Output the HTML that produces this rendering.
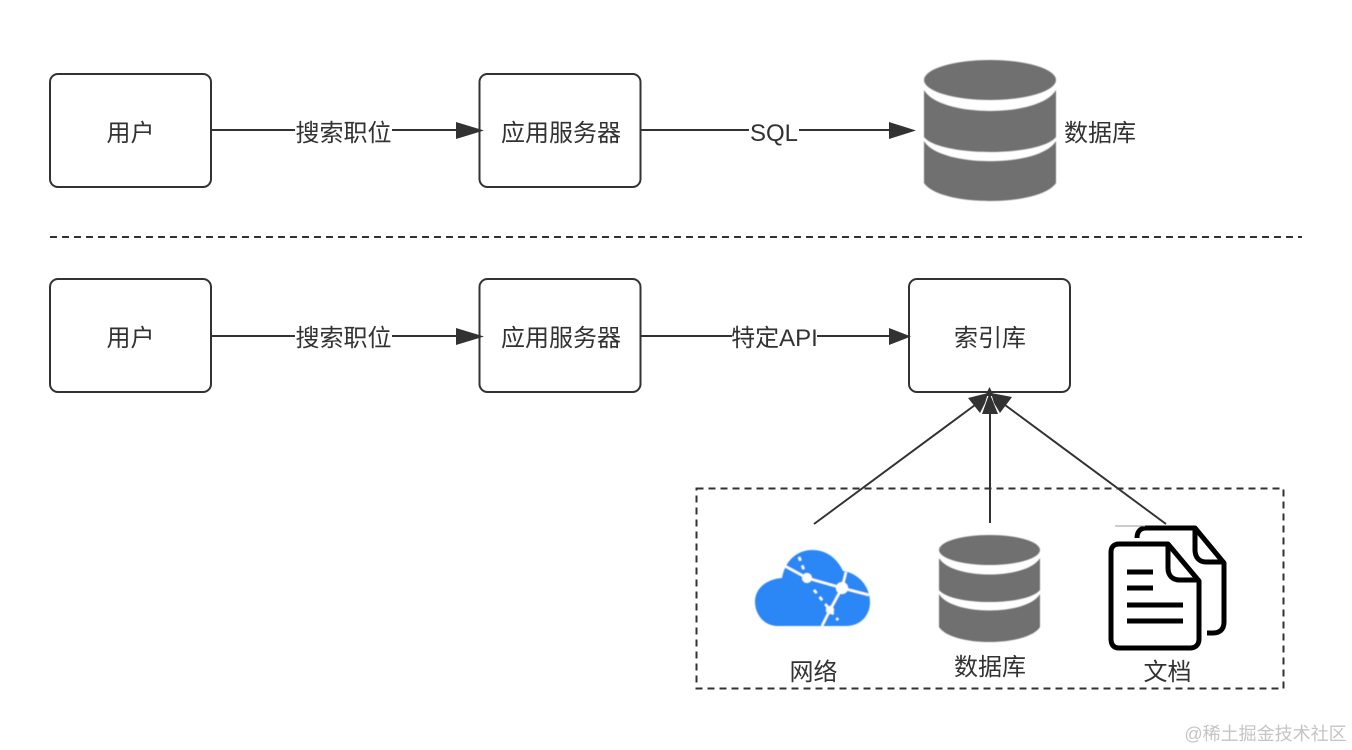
<!DOCTYPE html>
<html lang="zh"><head><meta charset="utf-8"><style>
html,body{margin:0;padding:0;background:#fff;width:1352px;height:750px;overflow:hidden}
svg{display:block}
text{font-family:"Liberation Sans","Noto Sans CJK SC",sans-serif;font-size:24px;fill:#333;text-anchor:middle}
</style></head><body>
<svg width="1352" height="750" viewBox="0 0 1352 750" xmlns="http://www.w3.org/2000/svg">
<defs>
<filter id="b" x="-5%" y="-5%" width="110%" height="110%"><feGaussianBlur stdDeviation="0.6"/></filter>
<filter id="s" filterUnits="userSpaceOnUse" x="0" y="0" width="1352" height="750"><feGaussianBlur stdDeviation="0.3"/></filter>
</defs>
<g filter="url(#s)">
<g fill="#fff" stroke="#333" stroke-width="2">
<rect x="50" y="74" width="161" height="113" rx="8"/>
<rect x="479.500" y="74" width="161" height="113" rx="8"/>
<rect x="50" y="279" width="161" height="113" rx="8"/>
<rect x="479.500" y="279" width="161" height="113" rx="8"/>
<rect x="909" y="279" width="161" height="113" rx="8"/>
</g>
<g stroke="#333" stroke-width="2" fill="none">
<path d="M212 130H460M641 130H892M212 336H460M641 336H892"/>
<path d="M814 524L975 405M990 523V410M1166 524L1005 405"/>
</g>
<g fill="#333">
<path d="M456 122L484 130.500L456 139Z"/>
<path d="M889 122L916 130.500L889 139Z"/>
<path d="M456 328L484 336.500L456 345Z"/>
<path d="M889 328L911 336.500L889 345Z"/>
<path d="M988 393L968 398L980 413L985 403Z"/>
<path d="M989.500 393L982 414H998Z"/>
<path d="M991 393L1012 397L1000 413L994 403Z"/>
<path d="M989.500 387L985 396H994Z"/>
</g>
<path d="M50 237H1302" stroke="#333" stroke-width="2" stroke-dasharray="7 5" fill="none"/>
<rect x="696.500" y="488.500" width="587" height="200" fill="none" stroke="#333" stroke-width="2" stroke-dasharray="7 5"/>
<g fill="#fff">
<rect x="295" y="115" width="97" height="32"/>
<rect x="749" y="115" width="50" height="32"/>
<rect x="295" y="321" width="97" height="32"/>
<rect x="732" y="321" width="85" height="32"/>
</g>
<text x="130.500" y="141">用户</text>
<text x="343.500" y="141">搜索职位</text>
<text x="561" y="141">应用服务器</text>
<text x="774" y="141">SQL</text>
<text x="1100" y="141">数据库</text>
<text x="130.500" y="346">用户</text>
<text x="343.500" y="346">搜索职位</text>
<text x="561" y="346">应用服务器</text>
<text x="774.500" y="346">特定API</text>
<text x="990" y="346">索引库</text>
<text x="813.500" y="680">网络</text>
<text x="990" y="675">数据库</text>
<text x="1167.500" y="680">文档</text>
<g fill="#6f6f6f" filter="url(#b)">
<ellipse cx="990" cy="80" rx="66" ry="20"/>
<path d="M924 90C940 118 1040 118 1056 90V137C1040 157 940 157 924 137Z"/>
<path d="M924 141C940 168 1040 168 1056 141V183C1040 207 940 207 924 183Z"/>
</g>
<g fill="#6f6f6f" filter="url(#b)">
<ellipse cx="989.500" cy="550" rx="50.500" ry="15"/>
<path d="M939 558C952 580 1027 580 1040 558V590C1027 606 952 606 939 590Z"/>
<path d="M939 594C952 616 1027 616 1040 594V627C1027 647 952 647 939 627Z"/>
</g>
<g filter="url(#b)">
<path d="M778 626C762 626 755 612 755 602C755 588 767 579 782 578C785 560 798 550 812 550C828 550 838 560 843 571C858 573 870 586 870 602C870 616 860 626 846 626Z" fill="#2b87f5"/>
<g stroke="#fff" fill="none" stroke-width="2.500">
<path d="M783 565L807 578L842 588L846 572M842 588L869 595M842 588L830 610L822 626"/>
<path d="M799 557L807 578M814 590L838 620" stroke-dasharray="4 5"/>
</g>
<g fill="#fff"><circle cx="807" cy="578" r="5"/><circle cx="842" cy="588" r="6"/><circle cx="830" cy="610" r="4"/></g>
</g>
<g fill="none" stroke="#000" stroke-width="5" stroke-linejoin="round">
<path d="M1137 538C1137 531 1141 528 1146 528H1195L1224 563V622C1224 630 1219 633 1213 633H1207"/>
<path d="M1195 528V550C1195 558 1200 562 1206 562H1224"/>
<path d="M1119 544H1168L1199 581V639C1199 645 1195 648 1190 648H1119C1114 648 1111 645 1111 639V552C1111 547 1114 544 1119 544Z" fill="#fff"/>
<path d="M1168 544V568C1168 576 1173 580 1180 580H1199"/>
<path d="M1127 572H1153M1127 588H1153M1127 605H1183M1127 621H1183"/>
</g>
<path d="M1115 526H1145" stroke="#999" stroke-width="1"/>
<text x="1265.500" y="740" style="font-size:18px;fill:#c4c4c4">@稀土掘金技术社区</text>
</g>
</svg>
</body></html>
